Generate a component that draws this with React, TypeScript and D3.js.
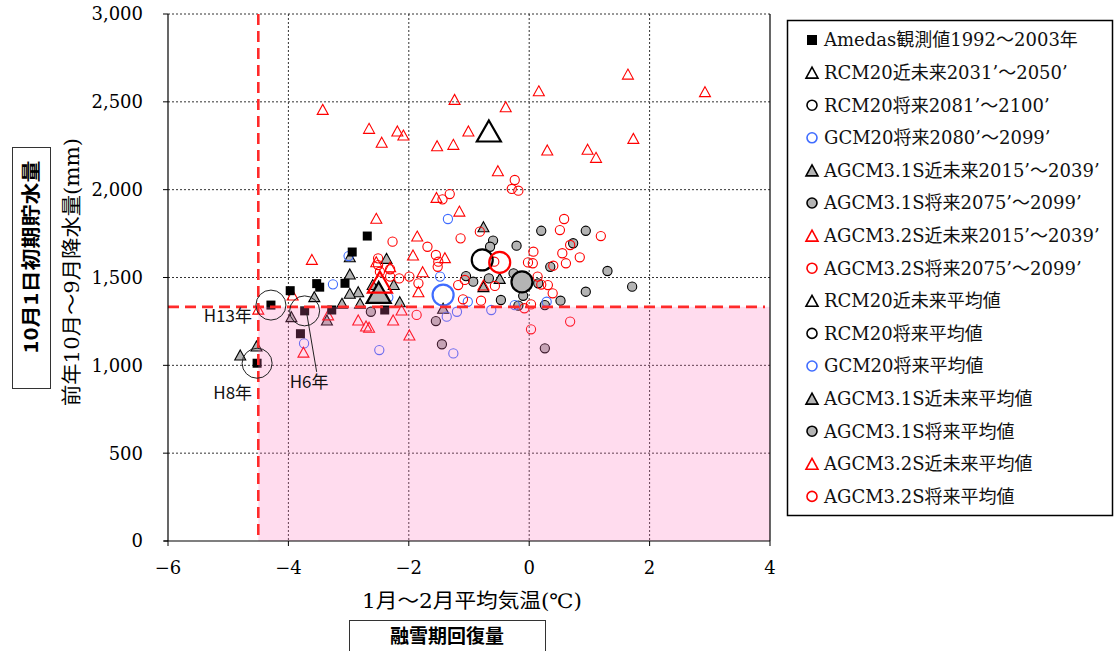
import React from 'react';
import * as d3 from 'd3';

type Pt = [number, number]; // [Jan–Feb mean temperature (°C), Oct–Sep precipitation (mm)]

// Observed values 1992–2003 (index 1 = H13, 2 = H8, 3 = H6)
const amedas: Pt[] = [
  [-3.97, 1425], [-4.29, 1343], [-4.52, 1012], [-3.73, 1310], [-3.8, 1180], [-3.53, 1465],
  [-3.48, 1445], [-3.06, 1467], [-2.94, 1645], [-2.69, 1736], [-3.28, 1315], [-2.4, 1315],
];

const rcm20Near: Pt[] = [];
const rcm20Future: Pt[] = [];

const gcm20Future: Pt[] = [
  [-1.35, 1833], [-1.48, 1505], [-3.0, 1622], [-3.26, 1461], [-3.74, 1125], [-2.49, 1087],
  [-2.34, 1387], [-1.37, 1277], [-1.2, 1305], [-1.26, 1068], [-1.02, 1362], [-0.63, 1315],
  [-0.24, 1343], [0.29, 1362],
];

const agcm31Near: Pt[] = [
  [-2.98, 1618], [-2.37, 1609], [-2.98, 1520], [-2.25, 1460], [-2.6, 1460], [-2.84, 1419],
  [-3.11, 1353], [-2.81, 1353], [-3.57, 1391], [-3.95, 1277], [-3.36, 1258], [-2.15, 1362],
  [-4.53, 1110], [-4.8, 1059], [-1.43, 1325], [-0.49, 1495], [-0.76, 1448], [-0.76, 1789],
  [-2.98, 1410],
];

const agcm31Future: Pt[] = [
  [0.2, 1766], [0.94, 1766], [0.73, 1695], [-0.6, 1710], [-0.65, 1675], [-0.21, 1681],
  [1.3, 1537], [-0.26, 1524], [0.35, 1561], [-1.05, 1508], [-0.93, 1476], [-0.67, 1495],
  [-0.1, 1396], [-0.47, 1372], [-0.18, 1340], [0.15, 1467], [0.26, 1343], [0.52, 1368],
  [0.94, 1419], [1.71, 1448], [0.26, 1097], [-2.63, 1305], [-1.55, 1252], [-1.45, 1120],
];

const agcm32Near: Pt[] = [
  [-3.43, 2457], [-2.66, 2349], [-2.45, 2270], [-2.19, 2334], [-2.09, 2311], [-1.53, 2250],
  [-1.26, 2258], [-1.24, 2514], [-1.01, 2334], [-1.54, 1956], [-1.16, 1878], [-2.54, 1837],
  [-1.86, 1736], [-3.61, 1603], [-2.54, 1590], [-1.93, 1628], [-1.77, 1533], [-1.4, 1613],
  [-2.31, 1561], [1.64, 2658], [0.16, 2563], [2.92, 2558], [-0.39, 2472], [0.3, 2226],
  [0.97, 2230], [1.11, 2184], [1.73, 2292], [-0.52, 2108], [-0.76, 1457], [-1.84, 1419],
  [-2.12, 1315], [-3.93, 1400], [-4.5, 1320], [-3.34, 1287], [-2.84, 1258], [-2.71, 1224],
  [-2.66, 1217], [-2.26, 1258], [-1.99, 1173], [-3.75, 1075],
];

const agcm32Future: Pt[] = [
  [-1.44, 1945], [-1.32, 1975], [-2.27, 1704], [-1.69, 1675], [-1.14, 1723], [-1.55, 1628],
  [-1.51, 1590], [-0.82, 1761], [-2.51, 1609], [-2.48, 1533], [-1.99, 1505], [-2.16, 1495],
  [-2.31, 1505], [-0.24, 2055], [-0.29, 2004], [-0.18, 1994], [0.58, 1833], [0.51, 1770],
  [1.19, 1736], [-0.58, 1590], [0.68, 1685], [0.55, 1638], [0.07, 1647], [0.84, 1615],
  [-0.02, 1586], [0.06, 1581], [0.61, 1581], [0.4, 1567], [0.14, 1505], [0.31, 1457],
  [0.39, 1410], [-1.1, 1376], [-0.8, 1368], [-0.57, 1452], [-1.07, 1486], [0.03, 1347],
  [-0.08, 1325], [0.68, 1249], [0.03, 1205], [-1.52, 1561], [-2.51, 1571], [-1.84, 1467],
  [-2.31, 1547], [-1.18, 1457], [-1.87, 1287], [0.2, 1460],
];

// Ensemble means
const meanRcm20Near: Pt = [-0.67, 2334];
const meanRcm20Future: Pt = [-0.78, 1600];
const meanGcm20Future: Pt = [-1.43, 1400];
const meanAgcm31Near: Pt = [-2.5, 1415];
const meanAgcm31Future: Pt = [-0.12, 1475];
const meanAgcm32Near: Pt = [-2.48, 1474];
const meanAgcm32Future: Pt = [-0.49, 1586];

const xTicks = [-6, -4, -2, 0, 2, 4];
const yTicks = [0, 500, 1000, 1500, 2000, 2500, 3000];

// Thresholds bounding the shaded region
const thresholdTemp = -4.5;
const thresholdPrecip = 1333;

const legendLabels = [
  'Amedas観測値1992～2003年',
  'RCM20近未来2031’～2050’',
  'RCM20将来2081’～2100’',
  'GCM20将来2080’～2099’',
  'AGCM3.1S近未来2015’～2039’',
  'AGCM3.1S将来2075’～2099’',
  'AGCM3.2S近未来2015’～2039’',
  'AGCM3.2S将来2075’～2099’',
  'RCM20近未来平均値',
  'RCM20将来平均値',
  'GCM20将来平均値',
  'AGCM3.1S近未来平均値',
  'AGCM3.1S将来平均値',
  'AGCM3.2S近未来平均値',
  'AGCM3.2S将来平均値',
];

const yearNotes = [
  { label: 'H13年', index: 1 },
  { label: 'H8年', index: 2 },
  { label: 'H6年', index: 3 },
];

const SERIF = "'DejaVu Serif', 'Noto Sans CJK JP', serif";
const SANS = "'Noto Sans CJK JP', 'Noto Sans', sans-serif";

const RED = '#ff0000';
const BLUE = '#3f6cff';
const GRAY = '#b4b4b4';

type Shape = 'square' | 'triangle' | 'circle';
interface Style { shape: Shape; stroke: string; fill: string }

const styles: Style[] = [
  { shape: 'square', stroke: '#000', fill: '#000' },
  { shape: 'triangle', stroke: '#000', fill: 'none' },
  { shape: 'circle', stroke: '#000', fill: 'none' },
  { shape: 'circle', stroke: BLUE, fill: 'none' },
  { shape: 'triangle', stroke: '#000', fill: GRAY },
  { shape: 'circle', stroke: '#000', fill: GRAY },
  { shape: 'triangle', stroke: RED, fill: 'none' },
  { shape: 'circle', stroke: RED, fill: 'none' },
];

const x = d3.scaleLinear().domain([-6, 4]).range([168, 770]);
const y = d3.scaleLinear().domain([0, 3000]).range([541, 14]);

function triPath(cx: number, cy: number, w: number, h: number) {
  return `M${cx},${cy - h / 2}L${cx + w / 2},${cy + h / 2}L${cx - w / 2},${cy + h / 2}Z`;
}

function Marker({ cx, cy, st, big, legend }: { cx: number; cy: number; st: Style; big?: boolean; legend?: boolean }) {
  const sw = big ? 2.2 : legend ? 1.6 : 1.1;
  if (st.shape === 'square') {
    const s = legend ? 10 : 9;
    return <rect x={cx - s / 2} y={cy - s / 2} width={s} height={s} fill={st.fill} />;
  }
  if (st.shape === 'triangle') {
    const w = big ? 24 : legend ? 12 : 11;
    const h = big ? 21 : legend ? 11 : 10;
    return <path d={triPath(cx, cy, w, h)} fill={st.fill} stroke={st.stroke} strokeWidth={sw} strokeLinejoin="miter" />;
  }
  const r = big ? 10.5 : legend ? 5 : 4.6;
  return <circle cx={cx} cy={cy} r={r} fill={st.fill} stroke={st.stroke} strokeWidth={sw} />;
}

export default function App() {
  const series: { data: Pt[]; st: Style }[] = [
    { data: agcm31Near, st: styles[4] },
    { data: agcm31Future, st: styles[5] },
    { data: rcm20Near, st: styles[1] },
    { data: rcm20Future, st: styles[2] },
    { data: gcm20Future, st: styles[3] },
    { data: agcm32Near, st: styles[6] },
    { data: agcm32Future, st: styles[7] },
    { data: amedas, st: styles[0] },
  ];
  const means: { p: Pt; st: Style }[] = [
    { p: meanRcm20Near, st: styles[1] },
    { p: meanRcm20Future, st: styles[2] },
    { p: meanGcm20Future, st: styles[3] },
    { p: meanAgcm31Near, st: styles[4] },
    { p: meanAgcm31Future, st: styles[5] },
    { p: meanAgcm32Near, st: styles[6] },
    { p: meanAgcm32Future, st: styles[7] },
  ];
  const legendStyles = [...styles, ...styles.slice(1)];
  const fmtY = d3.format(',');
  const fmtX = d3.format('');
  const [x0, x1] = x.range();
  const [y0, y1] = y.range();

  return (
    <svg width={1115} height={651} style={{ position: 'absolute', left: 0, top: 0, background: '#fff' }}>
      {/* grid */}
      {xTicks.slice(1, -1).map((t) => (
        <line key={`gx${t}`} x1={x(t)} x2={x(t)} y1={y1} y2={y0} stroke="#333" strokeWidth={1} strokeDasharray="2,2" />
      ))}
      {yTicks.slice(1).map((t) => (
        <line key={`gy${t}`} x1={x0} x2={x1} y1={y(t)} y2={y(t)} stroke="#333" strokeWidth={1} strokeDasharray="2,2" />
      ))}

      {/* scatter */}
      {series.map((s, si) =>
        s.data.map((p, i) => <Marker key={`${si}-${i}`} cx={x(p[0])} cy={y(p[1])} st={s.st} />)
      )}
      {means.map((m, i) => (
        <Marker key={`m${i}`} cx={x(m.p[0])} cy={y(m.p[1])} st={m.st} big />
      ))}

      {/* shaded region: warm winter / low precipitation */}
      <rect
        x={x(thresholdTemp)}
        y={y(thresholdPrecip)}
        width={x(4) - x(thresholdTemp)}
        height={y(0) - y(thresholdPrecip)}
        fill="rgb(255,110,185)"
        fillOpacity={0.24}
      />
      <line x1={x(thresholdTemp)} x2={x(thresholdTemp)} y1={y1} y2={y0} stroke="#ff2a2a" strokeWidth={2.6} strokeDasharray="11,6" />
      <line x1={x0} x2={x1 - 5} y1={y(thresholdPrecip)} y2={y(thresholdPrecip)} stroke="#ff2a2a" strokeWidth={2.6} strokeDasharray="11,6" />

      {/* year annotations */}
      {yearNotes.map((n) => {
        const p = amedas[n.index];
        return <circle key={n.label} cx={x(p[0])} cy={y(p[1])} r={15} fill="none" stroke="#222" strokeWidth={1} />;
      })}
      {(() => {
        const h13 = amedas[1];
        const h8 = amedas[2];
        const h6 = amedas[3];
        return (
          <g fontFamily={SANS} fontSize={17} fill="#111">
            <text x={x(h13[0]) - 19} y={y(h13[1]) + 17} textAnchor="end">H13年</text>
            <text x={x(h8[0]) - 5} y={y(h8[1]) + 36} textAnchor="end">H8年</text>
            <line x1={x(h6[0]) + 2} y1={y(h6[1]) + 2} x2={x(h6[0]) + 12} y2={y(h6[1]) + 61} stroke="#222" strokeWidth={1} />
            <text x={x(h6[0]) - 15} y={y(h6[1]) + 77}>H6年</text>
          </g>
        );
      })()}

      {/* frame and axes */}
      <line x1={x1} x2={x1} y1={y1} y2={y0} stroke="#000" strokeWidth={1.2} />
      <line x1={x0} x2={x0} y1={y1} y2={y0} stroke="#000" strokeWidth={1.2} />
      <line x1={x0 - 4} x2={x1} y1={y0} y2={y0} stroke="#000" strokeWidth={1.2} />
      {yTicks.map((t) => (
        <g key={`yt${t}`}>
          <line x1={x0 - 5} x2={x0} y1={y(t)} y2={y(t)} stroke="#000" />
          <text x={143} y={y(t)} dy="0.36em" textAnchor="end" fontFamily={SERIF} fontSize={18}>{fmtY(t)}</text>
        </g>
      ))}
      {xTicks.map((t) => (
        <g key={`xt${t}`}>
          <line x1={x(t)} x2={x(t)} y1={y0} y2={y0 + 5} stroke="#000" />
          <text x={x(t)} y={568} dy="0.36em" textAnchor="middle" fontFamily={SERIF} fontSize={18}>{fmtX(t)}</text>
        </g>
      ))}

      {/* axis titles */}
      <text x={472} y={601} dy="0.36em" textAnchor="middle" fontFamily={SERIF} fontSize={20} textLength={220} lengthAdjust="spacingAndGlyphs">
        1月～2月平均気温(℃)
      </text>
      <text
        transform="translate(72,272) rotate(-90)"
        textAnchor="middle"
        dy="0.36em"
        fontFamily={SERIF}
        fontSize={20}
        textLength={268}
        lengthAdjust="spacingAndGlyphs"
      >
        前年10月～9月降水量(mm)
      </text>

      {/* boxed captions */}
      <rect x={12.5} y={147.5} width={38} height={241} fill="#fff" stroke="#333" strokeWidth={1} />
      <text
        transform="translate(31,257) rotate(-90)"
        textAnchor="middle"
        dy="0.36em"
        fontFamily={SANS}
        fontWeight="bold"
        fontSize={19}
        textLength={193}
        lengthAdjust="spacingAndGlyphs"
      >
        10月1日初期貯水量
      </text>
      <rect x={349.5} y={620.5} width={196} height={40} fill="#fff" stroke="#333" strokeWidth={1} />
      <text x={447} y={636} dy="0.36em" textAnchor="middle" fontFamily={SANS} fontWeight="bold" fontSize={19}>
        融雪期回復量
      </text>

      {/* legend */}
      <rect x={787.5} y={20.5} width={325} height={495} fill="#fff" stroke="#000" strokeWidth={1.5} />
      {legendLabels.map((label, i) => {
        const ly = 40 + i * 32.6;
        return (
          <g key={label}>
            <Marker cx={812} cy={ly} st={legendStyles[i]} legend />
            <text x={824} y={ly} dy="0.36em" fontFamily={SERIF} fontSize={18} fill="#111">
              {label}
            </text>
          </g>
        );
      })}
    </svg>
  );
}
